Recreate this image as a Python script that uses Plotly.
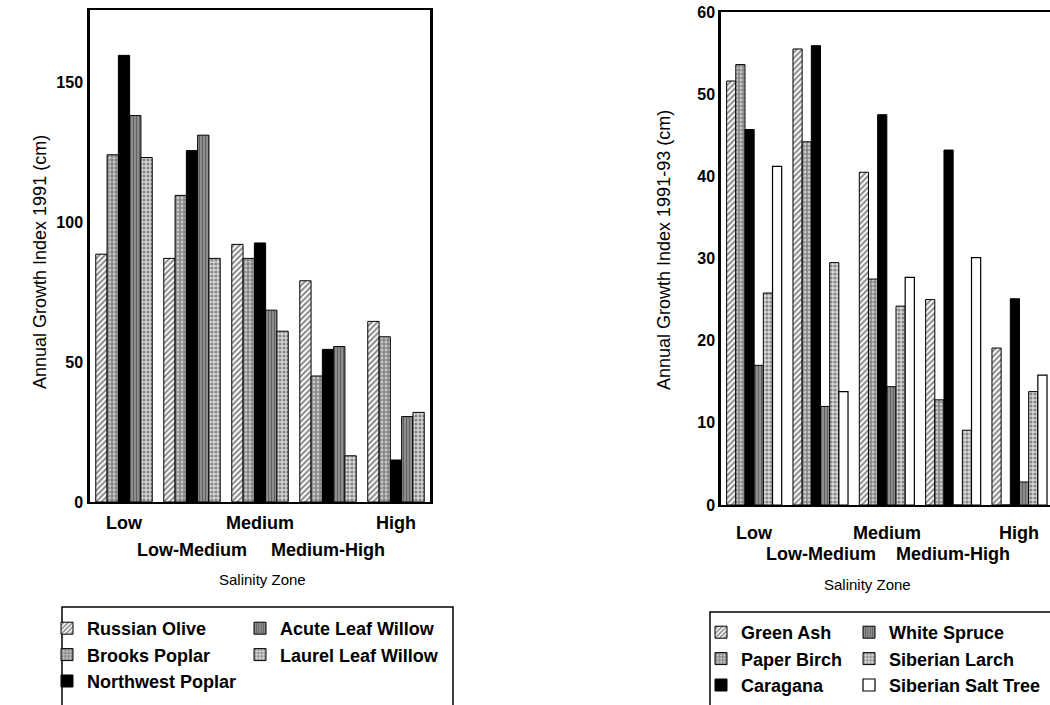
import plotly.graph_objects as go

# Salinity zones (x categories)
zones = ["Low", "Low-Medium", "Medium", "Medium-High", "High"]

# Annual growth index 1991 (cm) - left panel
russian_olive = [88.5, 87.0, 92.0, 79.0, 64.5]
brooks_poplar = [124.0, 109.5, 87.0, 45.0, 59.0]
northwest_poplar = [159.5, 125.5, 92.5, 54.5, 15.0]
acute_leaf_willow = [138.0, 131.0, 68.5, 55.5, 30.5]
laurel_leaf_willow = [123.0, 87.0, 61.0, 16.5, 32.0]

# Annual growth index 1991-93 (cm) - right panel
green_ash = [51.6, 55.5, 40.5, 25.0, 19.1]
paper_birch = [53.6, 44.2, 27.5, 12.8, 0.0]
caragana = [45.7, 55.9, 47.5, 43.2, 25.1]
white_spruce = [17.0, 12.0, 14.4, 0.0, 2.8]
siberian_larch = [25.8, 29.5, 24.2, 9.1, 13.8]
siberian_salt_tree = [41.2, 13.8, 27.7, 30.1, 15.8]

W, H = 1050, 705
FONT = "Liberation Sans, Arial, Helvetica, sans-serif"


def px(x):
    return x / W


def py(y):
    return 1 - y / H


# fill styles shared by both panels
STYLES = {
    "hatch": dict(shape="/", size=4, solidity=0.5, fgcolor="#111", bgcolor="white"),
    "brick": dict(shape="+", size=4, solidity=0.5, fgcolor="#222", bgcolor="#c8c8c8"),
    "vgrid": dict(shape="|", size=3, solidity=0.55, fgcolor="#222", bgcolor="#a0a0a0"),
    "dots": dict(shape=".", size=4, solidity=0.5, fgcolor="#333", bgcolor="#d8d8d8"),
}


def bar(name, values, style, xa, ya, legend, rank):
    if style == "solid":
        marker = dict(color="black", line=dict(color="black", width=1))
    elif style == "empty":
        marker = dict(color="white", line=dict(color="black", width=1.2))
    else:
        marker = dict(color="white", pattern=STYLES[style],
                      line=dict(color="black", width=1))
    return go.Bar(x=zones, y=values, name=name, marker=marker,
                  xaxis=xa, yaxis=ya, legend=legend, legendrank=rank)


fig = go.Figure()

left_series = [
    ("Russian Olive", russian_olive, "hatch", "legend"),
    ("Brooks Poplar", brooks_poplar, "brick", "legend"),
    ("Northwest Poplar", northwest_poplar, "solid", "legend"),
    ("Acute Leaf Willow", acute_leaf_willow, "vgrid", "legend2"),
    ("Laurel Leaf Willow", laurel_leaf_willow, "dots", "legend2"),
]
for i, (n, v, s, lg) in enumerate(left_series):
    fig.add_trace(bar(n, v, s, "x", "y", lg, i))

right_series = [
    ("Green Ash", green_ash, "hatch", "legend3"),
    ("Paper Birch", paper_birch, "brick", "legend3"),
    ("Caragana", caragana, "solid", "legend3"),
    ("White Spruce", white_spruce, "vgrid", "legend4"),
    ("Siberian Larch", siberian_larch, "dots", "legend4"),
    ("Siberian Salt Tree", siberian_salt_tree, "empty", "legend4"),
]
for i, (n, v, s, lg) in enumerate(right_series):
    fig.add_trace(bar(n, v, s, "x2", "y2", lg, i))

tickfont = dict(family=FONT, size=16, color="black", weight="bold")

fig.update_layout(
    width=W, height=H,
    margin=dict(l=0, r=0, t=0, b=0, autoexpand=False),
    paper_bgcolor="white", plot_bgcolor="white",
    barmode="group", bargap=0.17, bargroupgap=0,
    font=dict(family=FONT, color="black"),
    xaxis=dict(domain=[px(90), px(430)], range=[-0.5, 4.5], showticklabels=False,
               ticks="", showgrid=False, showline=True, linecolor="black",
               linewidth=1.5, mirror=True, anchor="y", automargin=False),
    yaxis=dict(domain=[py(502), py(10)], range=[0, 175.7], tickvals=[0, 50, 100, 150],
               ticks="", showgrid=False, zeroline=False, showline=True,
               linecolor="black", linewidth=2.5, mirror=True, tickfont=tickfont,
               ticklabelstandoff=1, anchor="x", automargin=False),
    xaxis2=dict(domain=[px(721), 1.0], range=[-0.5, 4.46], showticklabels=False,
                ticks="", showgrid=False, showline=True, linecolor="black",
                linewidth=1.5, mirror=True, anchor="y2", automargin=False),
    yaxis2=dict(domain=[py(505), py(12)], range=[0, 60], tickvals=[0, 10, 20, 30, 40, 50, 60],
                ticks="", showgrid=False, zeroline=False, showline=True,
                linecolor="black", linewidth=2.5, tickfont=tickfont,
                ticklabelstandoff=0, anchor="x2", automargin=False),
)

legend_font = dict(family=FONT, size=18, color="black", weight="bold")
common_legend = dict(font=legend_font, bgcolor="rgba(0,0,0,0)", borderwidth=0,
                     xanchor="left", yanchor="top", orientation="v",
                     traceorder="normal", tracegroupgap=0, itemclick=False)
fig.update_layout(
    legend=dict(x=px(47), y=py(610), **common_legend),
    legend2=dict(x=px(240), y=py(610), **common_legend),
    legend3=dict(x=px(701), y=py(614), **common_legend),
    legend4=dict(x=px(849), y=py(614), **common_legend),
)

# legend frames
fig.add_shape(type="rect", xref="paper", yref="paper",
              x0=px(62), x1=px(453), y0=py(709), y1=py(607),
              line=dict(color="black", width=1.5), fillcolor="rgba(0,0,0,0)")
fig.add_shape(type="rect", xref="paper", yref="paper",
              x0=px(710), x1=px(1055), y0=py(709), y1=py(612),
              line=dict(color="black", width=1.5), fillcolor="rgba(0,0,0,0)")

cat_font = dict(family=FONT, size=18, color="black", weight="bold")
title_font = dict(family=FONT, size=15, color="black")
ytitle_font = dict(family=FONT, size=18, color="black")

# staggered zone labels under each panel
for xa, rows in (("x", (523, 550)), ("x2", (533, 554))):
    for i, z in enumerate(zones):
        fig.add_annotation(x=i, y=py(rows[i % 2]), xref=xa, yref="paper",
                           text=z, showarrow=False, font=cat_font,
                           xanchor="center", yanchor="middle")

fig.add_annotation(x=px(262), y=py(579), xref="paper", yref="paper",
                   text="Salinity Zone", showarrow=False, font=title_font,
                   xanchor="center", yanchor="middle")
fig.add_annotation(x=px(867), y=py(584), xref="paper", yref="paper",
                   text="Salinity Zone", showarrow=False, font=title_font,
                   xanchor="center", yanchor="middle")
fig.add_annotation(x=px(40), y=py(262), xref="paper", yref="paper",
                   text="Annual Growth Index 1991 (cm)", textangle=-90,
                   showarrow=False, font=ytitle_font,
                   xanchor="center", yanchor="middle")
fig.add_annotation(x=px(664), y=py(250), xref="paper", yref="paper",
                   text="Annual Growth Index 1991-93 (cm)", textangle=-90,
                   showarrow=False, font=ytitle_font,
                   xanchor="center", yanchor="middle")

fig.write_html("out.html")
